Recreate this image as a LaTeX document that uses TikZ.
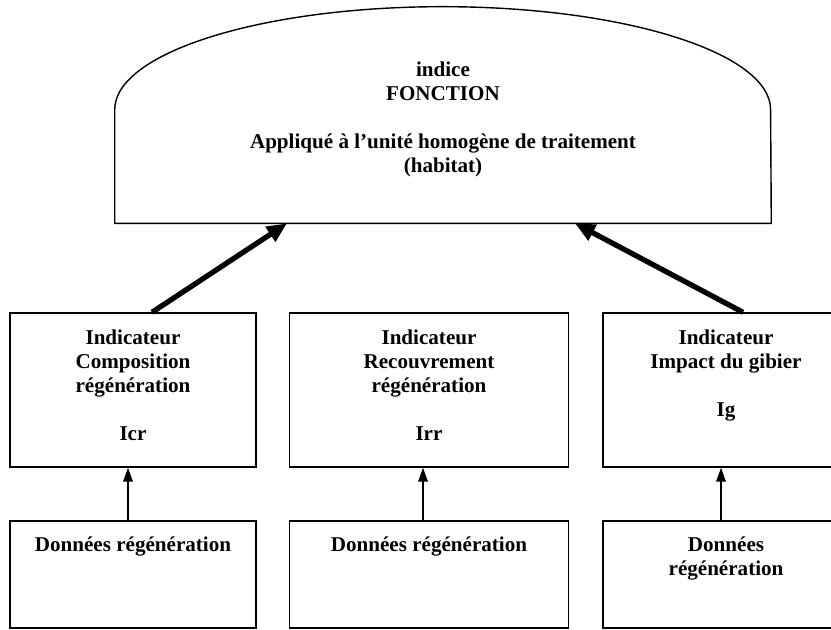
\documentclass[tikz,border=0pt]{standalone}
\usepackage{fontspec}
\setmainfont{Liberation Serif}
\usetikzlibrary{arrows.meta}

\begin{document}
\begin{tikzpicture}[x=0.02cm,y=-0.02cm,
    boxstyle/.style={draw,line width=0.8pt,inner sep=0pt},
    txt/.style={font=\bfseries\fontsize{12}{13.66}\selectfont,align=center,inner sep=0pt,anchor=north},
    bigarrow/.style={line width=3pt,-{Triangle[length=4mm,width=3.4mm]}},
    smallarrow/.style={line width=1.1pt,-{Triangle[length=2.8mm,width=1.9mm]}}]
  \useasboundingbox (0,0) rectangle (831,629);
  \node[inner sep=0pt,minimum width=13.12cm,minimum height=2.26cm] (fonc) at (443,166.5) {};
  \draw[line width=0.8pt] (fonc.south west) -- (fonc.north west)
    arc[start angle=180,end angle=0,x radius=6.56cm,y radius=2.06cm] -- (fonc.south east) -- cycle;
  \node[txt] (fonctxt) at (443,62) {indice\\FONCTION\\[13.66pt]Appliqué à l’unité homogène de traitement\\(habitat)};
  \node[boxstyle,minimum width=4.92cm,minimum height=3.08cm] (i1) at (133,390) {};
  \node[boxstyle,minimum width=5.58cm,minimum height=3.08cm] (i2) at (429,390) {};
  \node[boxstyle,minimum width=4.92cm,minimum height=3.08cm] (i3) at (726,390) {};
  \node[txt] (i1txt) at ([yshift=-0.34cm]i1.north) {Indicateur\\Composition\\régénération\\[13.66pt]Icr};
  \node[txt] (i2txt) at ([yshift=-0.34cm]i2.north) {Indicateur\\Recouvrement\\régénération\\[13.66pt]Irr};
  \node[txt] (i3txt) at ([yshift=-0.34cm]i3.north) {Indicateur\\Impact du gibier\\[13.66pt]Ig};
  \node[boxstyle,minimum width=4.92cm,minimum height=2.14cm] (d1) at (133,574.5) {};
  \node[boxstyle,minimum width=5.58cm,minimum height=2.14cm] (d2) at (429,574.5) {};
  \node[boxstyle,minimum width=4.92cm,minimum height=2.14cm] (d3) at (726,574.5) {};
  \node[txt] (d1txt) at ([yshift=-0.33cm]d1.north) {Données régénération};
  \node[txt] (d2txt) at ([yshift=-0.33cm]d2.north) {Données régénération};
  \node[txt] (d3txt) at ([yshift=-0.33cm]d3.north) {Données\\régénération};
  \draw[bigarrow] ([xshift=0.38cm]i1.north) -- ([xshift=-3.12cm]fonc.south);
  \draw[bigarrow] ([xshift=0.34cm]i3.north) -- ([xshift=2.64cm]fonc.south);
  \draw[smallarrow] ([xshift=-0.1cm]d1.north) -- ([xshift=-0.1cm]i1.south);
  \draw[smallarrow] ([xshift=-0.12cm]d2.north) -- ([xshift=-0.12cm]i2.south);
  \draw[smallarrow] ([xshift=-0.1cm]d3.north) -- ([xshift=-0.1cm]i3.south);
\end{tikzpicture}
\end{document}
